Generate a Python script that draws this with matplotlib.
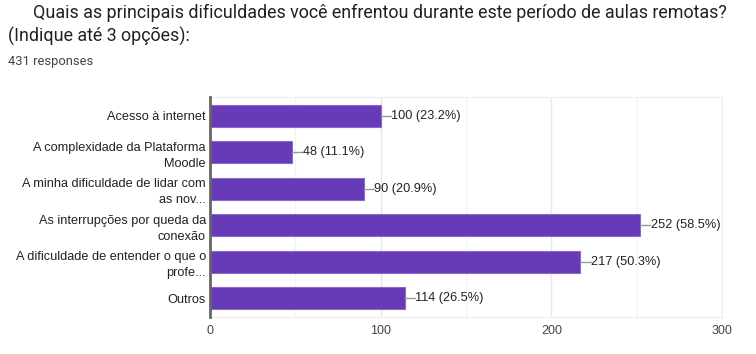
import matplotlib.pyplot as plt
import numpy as np

categories = ["Acesso à internet",
              "A complexidade da Plataforma\nMoodle",
              "A minha dificuldade de lidar com\nas nov...",
              "As interrupções por queda da\nconexão",
              "A dificuldade de entender o que o\nprofe...",
              "Outros"]
counts = [100, 48, 90, 252, 217, 114]
percents = [23.2, 11.1, 20.9, 58.5, 50.3, 26.5]
xticks = [0, 100, 200, 300]

fig = plt.figure(figsize=(7.56, 3.54), dpi=100)
ax = fig.add_axes([210/756, 1-317/354, 512/756, 220/354])

y = np.arange(len(categories))
ax.barh(y, counts, height=0.6, color="#673ab7", edgecolor="#8a6bc9", linewidth=0.8, zorder=3)

for yi, c, p in zip(y, counts, percents):
    ax.plot([c, c + 6], [yi, yi], color="#999999", lw=1, zorder=3)
    ax.text(c + 6.3, yi, f"{c} ({p}%)", va="center", ha="left",
            fontsize=9.2, family="Liberation Sans", color="#222222")

ax.set_xlim(0, 300)
ax.set_ylim(len(categories) - 0.48, -0.52)
ax.set_xticks(xticks)
ax.set_xticks([50, 150, 250], minor=True)
ax.set_xticklabels([str(t) for t in xticks], fontsize=9, family="Liberation Sans", color="#444444")
ax.tick_params(axis="x", which="both", length=0, pad=6)
ax.set_yticks(y)
ax.set_yticklabels(categories, fontsize=9.2, family="Liberation Sans", color="#222222",
                   linespacing=1.45)
ax.tick_params(axis="y", length=0, pad=3)
ax.grid(axis="x", which="major", color="#e8e8e8", lw=1, zorder=0)
ax.grid(axis="x", which="minor", color="#f3f3f3", lw=1, zorder=0)

for s in ["top", "right", "bottom"]:
    ax.spines[s].set_color("#eeeeee")
ax.spines["left"].set_color("#666666")
ax.spines["left"].set_linewidth(2)
ax.spines["left"].set_zorder(4)

fig.text(33/756, 1-13/354, "Quais as principais dificuldades você enfrentou durante este período de aulas remotas?",
         fontsize=12.9, family="Roboto", color="#202124", va="center")
fig.text(8/756, 1-36/354, "(Indique até 3 opções):",
         fontsize=12.9, family="Roboto", color="#202124", va="center")
fig.text(8/756, 1-62/354, "431 responses", fontsize=9.3, family="Roboto", color="#444444", va="center")

fig.savefig("out.png", dpi=100)
